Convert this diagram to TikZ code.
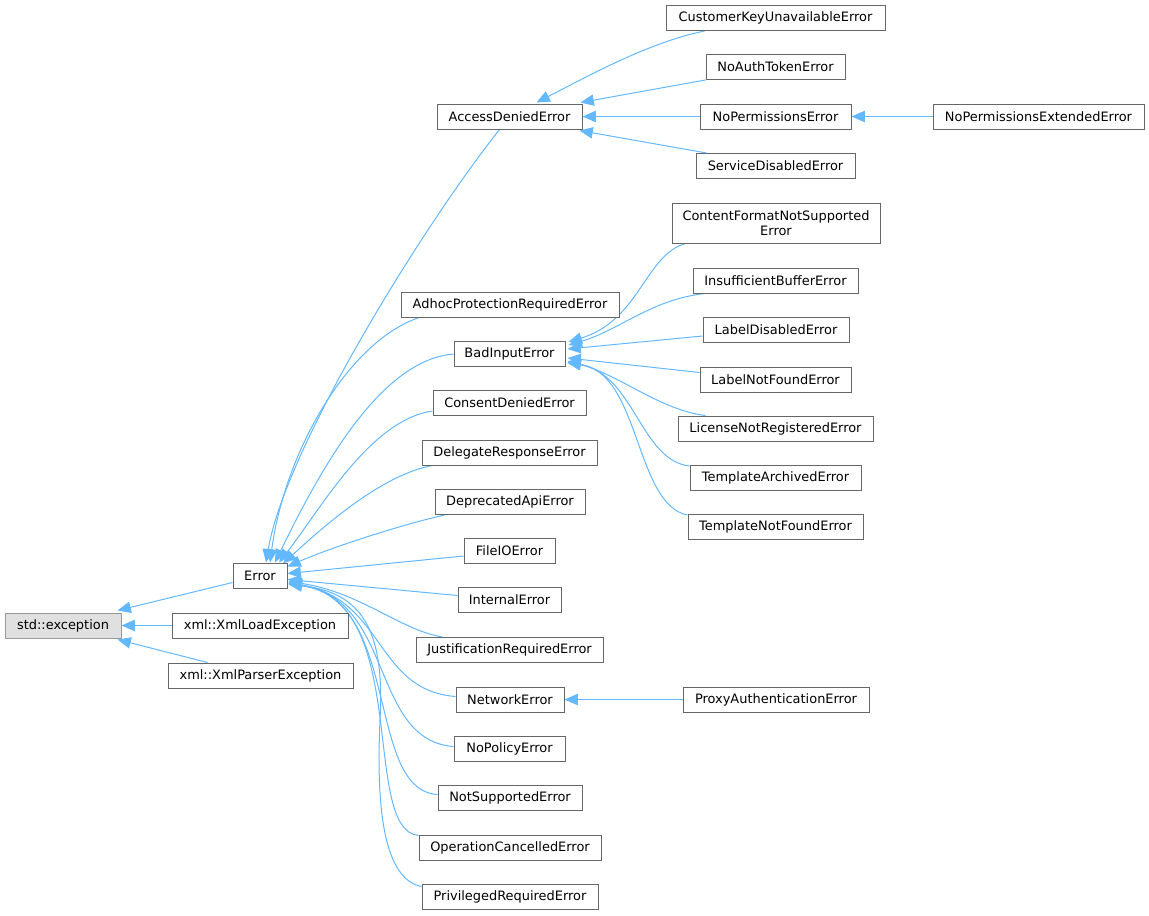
\documentclass[tikz,border=0pt]{standalone}
\usepackage{fontspec}
\setmainfont{DejaVu Sans}
\usetikzlibrary{arrows.meta,calc}
\definecolor{edgeblue}{HTML}{63B8FF}
\definecolor{boxline}{HTML}{666666}
\definecolor{rootline}{HTML}{999999}
\definecolor{rootfill}{HTML}{E0E0E0}
\pgfdeclarelayer{background}
\pgfsetlayers{background,main}
\begin{document}
\begin{tikzpicture}[x=0.75pt,y=-0.75pt,
  cls/.style={draw=boxline,fill=white,line width=0.75pt,inner sep=0pt,
    minimum height=25*0.75pt,minimum width=#1*0.75pt,
    font={\fontsize{9.7}{11}\selectfont},align=center},
  rootcls/.style={cls=#1,draw=rootline,fill=rootfill},
  edge/.style={draw=edgeblue,line width=0.75pt,
    {Triangle[length=10pt,width=8.5pt,fill=edgeblue]}-}]
\useasboundingbox (0,0) rectangle (1149,915);
% nodes
\node[rootcls=116] (stdex) at (63,625.5) {std::exception};
\node[cls=176] (xmlload) at (260,625.5) {xml::XmlLoadException};
\node[cls=185] (xmlparser) at (260.5,675.5) {xml::XmlParserException};
\node[cls=54] (error) at (260,575.5) {Error};
\node[cls=145] (access) at (509.5,116.5) {AccessDeniedError};
\node[cls=219] (custkey) at (775.5,18) {CustomerKeyUnavailableError};
\node[cls=139] (noauth) at (775.5,67) {NoAuthTokenError};
\node[cls=151] (noperm) at (775.5,116.5) {NoPermissionsError};
\node[cls=159] (servdis) at (775.5,166) {ServiceDisabledError};
\node[cls=211] (nopermext) at (1038.5,116.5) {NoPermissionsExtendedError};
\node[cls=208,minimum height=40*0.75pt] (contentfmt) at (776,223) {ContentFormatNotSupported\\Error};
\node[cls=165] (insuff) at (775.5,280.5) {InsufficientBufferError};
\node[cls=146] (labeldis) at (776,330) {LabelDisabledError};
\node[cls=151] (labelnf) at (775.5,379.5) {LabelNotFoundError};
\node[cls=195] (license) at (775.5,428.5) {LicenseNotRegisteredError};
\node[cls=171] (tmplarch) at (775.5,478) {TemplateArchivedError};
\node[cls=175] (tmplnf) at (775.5,527) {TemplateNotFoundError};
\node[cls=218] (adhoc) at (510,304.5) {AdhocProtectionRequiredError};
\node[cls=111] (badinput) at (509.5,354) {BadInputError};
\node[cls=153] (consent) at (509.5,403) {ConsentDeniedError};
\node[cls=175] (delegate) at (509.5,452.5) {DelegateResponseError};
\node[cls=150] (deprecated) at (510,502) {DeprecatedApiError};
\node[cls=91] (fileio) at (509.5,551) {FileIOError};
\node[cls=103] (internal) at (509.5,599.5) {InternalError};
\node[cls=187] (justif) at (509.5,650) {JustificationRequiredError};
\node[cls=108] (network) at (510,699.5) {NetworkError};
\node[cls=111] (nopolicy) at (509.5,748.5) {NoPolicyError};
\node[cls=144] (notsupp) at (510,797.5) {NotSupportedError};
\node[cls=182] (opcancel) at (510,847.5) {OperationCancelledError};
\node[cls=176] (priv) at (510,896.5) {PrivilegedRequiredError};
\node[cls=186] (proxy) at (776,699.5) {ProxyAuthenticationError};
\begin{pgfonlayer}{background}
% std::exception children
\draw[edge] ($(stdex.north east)+(-4,-2)$) -- ($(error.west)+(0,7)$);
\draw[edge] (stdex.east) -- (xmlload.west);
\draw[edge] ($(stdex.south east)+(-4,1)$) -- ($(xmlparser.north west)+(40,0)$);
% Error children
\draw[edge] ($(error.north)+(6,0)$) .. controls (285,450) and (420,230) .. ($(access.south)+(-10,0)$);
\draw[edge] ($(error.north)+(10,0)$) .. controls (285,450) and (350,340) .. ($(adhoc.south west)+(19,0)$);
\draw[edge] ($(error.north)+(15,0)$) .. controls (320,470) and (380,360) .. (badinput.west);
\draw[edge] ($(error.north)+(19,0)$) .. controls (320,510) and (370,420) .. ($(consent.west)+(0,8)$);
\draw[edge] ($(error.north)+(23,1)$) .. controls (320,530) and (380,475) .. ($(delegate.south west)+(11,0)$);
\draw[edge] ($(error.north east)+(0,4)$) .. controls (330,548) and (400,525) .. ($(deprecated.south west)+(10,0)$);
\draw[edge] ($(error.east)+(0,-2)$) -- ($(fileio.west)+(0,5)$);
\draw[edge] ($(error.east)+(0,4)$) -- ($(internal.west)+(0,-4)$);
\draw[edge] ($(error.east)+(1,6)$) .. controls (360,592) and (400,630) .. ($(justif.north west)+(27,0)$);
\draw[edge] ($(error.east)+(1,7)$) .. controls (385,600) and (375,690) .. ($(network.west)+(0,-3)$);
\draw[edge] ($(error.east)+(1,7.5)$) .. controls (395,600) and (370,740) .. ($(nopolicy.west)+(0,-2)$);
\draw[edge] ($(error.east)+(1,8)$) .. controls (402,600) and (365,790) .. ($(notsupp.west)+(0,-3)$);
\draw[edge] ($(error.east)+(1,8.5)$) .. controls (412,600) and (360,830) .. ($(opcancel.north west)+(0,1)$);
\draw[edge] ($(error.east)+(1,9)$) .. controls (362,592) and (385,630) .. (380,720) .. controls (375,830) and (390,880) .. ($(priv.north west)+(0,3)$);
% AccessDenied children
\draw[edge] ($(access.north)+(27,-1)$) .. controls (590,75) and (650,42) .. ($(custkey.south west)+(39,0)$);
\draw[edge] ($(access.north east)+(-2,-1)$) -- (noauth.south west);
\draw[edge] (access.east) -- (noperm.west);
\draw[edge] ($(access.south east)+(-3,1)$) -- ($(servdis.north west)+(11,0)$);
\draw[edge] (noperm.east) -- (nopermext.west);
% BadInput children
\draw[edge] ($(badinput.north east)+(3,1)$) .. controls (640,320) and (645,255) .. ($(contentfmt.south west)+(14,0)$);
\draw[edge] ($(badinput.east)+(3,-9)$) .. controls (620,330) and (650,300) .. ($(insuff.south west)+(12,0)$);
\draw[edge] ($(badinput.east)+(2,-5)$) -- ($(labeldis.west)+(0,6)$);
\draw[edge] ($(badinput.east)+(2,4)$) -- ($(labelnf.west)+(0,-7)$);
\draw[edge] ($(badinput.east)+(2,7)$) .. controls (620,375) and (660,410) .. ($(license.north west)+(28,0)$);
\draw[edge] ($(badinput.east)+(2,8)$) .. controls (635,375) and (640,460) .. ($(tmplarch.north west)+(0,1)$);
\draw[edge] ($(badinput.east)+(2,9)$) .. controls (640,372) and (635,505) .. ($(tmplnf.north west)+(0,1)$);
% Network child
\draw[edge] (network.east) -- (proxy.west);
\end{pgfonlayer}
\end{tikzpicture}
\end{document}
